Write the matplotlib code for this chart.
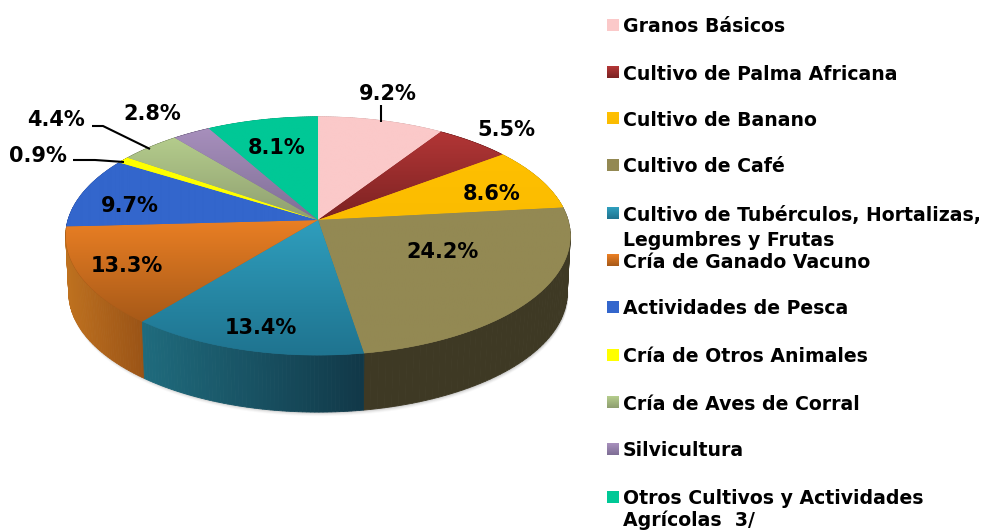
import matplotlib
matplotlib.use('Agg')
import matplotlib.pyplot as plt
import numpy as np
from matplotlib.colors import to_rgb

# datos
categories = ['Granos Básicos', 'Cultivo de Palma Africana', 'Cultivo de Banano', 'Cultivo de Café',
              'Cultivo de Tubérculos, Hortalizas,\nLegumbres y Frutas', 'Cría de Ganado Vacuno',
              'Actividades de Pesca', 'Cría de Otros Animales', 'Cría de Aves de Corral',
              'Silvicultura', 'Otros Cultivos y Actividades\nAgrícolas  3/']
values = [9.2, 5.5, 8.6, 24.2, 13.4, 13.3, 9.7, 0.9, 4.4, 2.8, 8.1]
pct_labels = ['9.2%', '5.5%', '8.6%', '24.2%', '13.4%', '13.3%', '9.7%', '0.9%', '4.4%', '2.8%', '8.1%']

# colores: arriba / abajo de la cara superior, izquierda / derecha del lateral
top_light = ['#FBC9C9', '#B23636', '#FFC000', '#938953', '#2F9EBD', '#EA7F24', '#3366CC', '#FFFF00', '#B4CC8C', '#A78FBC', '#00C896']
top_dark = ['#FBC9C9', '#7C2222', '#FBBC00', '#938953', '#1F7490', '#A85A18', '#3366CC', '#FFFF00', '#8F9F70', '#7F6F96', '#00C896']
side_left = ['#C09090', '#702020', '#A08000', '#3E3924', '#1F6B7D', '#BE711F', '#223F88', '#999900', '#6A7A50', '#5F5070', '#008060']
side_right = ['#C09090', '#702020', '#A08000', '#3E3924', '#113848', '#9A5316', '#223F88', '#999900', '#6A7A50', '#5F5070', '#008060']

# posicion de textos y leyenda (pixeles)
label_xy = [(388, 93), (506, 128), (492, 193), (443, 250), (261, 326), (127, 264),
            (130, 204), (38, 154), (56, 118), (152, 112), (277, 146)]
legend_y = [25, 72, 118, 165, 213, 260, 307, 355, 402, 449, 497]
leaders = [([381, 381], [105, 122]), ([92, 103, 150], [126, 126, 149]), ([73, 95, 124], [160, 160, 162])]

# perspectiva del disco
cx, cy = 318, 220
rx, ry, k = 250, 117, 0.134
depth = 57


def project(theta, shrink=1.0, dy=0):
    u = np.sin(theta)
    v = np.cos(theta)
    w = 1 + k * v
    return cx + shrink * rx * u / w, cy - ry * v / w + dy


fig = plt.figure(figsize=(9.83, 5.31), dpi=100)
ax = fig.add_axes([0, 0, 1, 1])
ax.axis('off')

fractions = np.array(values) / sum(values)
edges = np.concatenate([[0], np.cumsum(fractions)]) * 2 * np.pi

# sombra bajo el lateral
t = np.linspace(0, 2 * np.pi, 400)
for off, alpha in [(4, 0.05), (3, 0.08), (2, 0.12), (1, 0.16)]:
    sx, sy = project(t, shrink=0.988, dy=depth + off)
    ax.fill(sx + 1, sy, color='#808080', alpha=alpha, lw=0, zorder=1)

# lateral por tiras, primero los del fondo
mid = (edges[:-1] + edges[1:]) / 2
for i in np.argsort(-np.cos(mid)):
    th = np.linspace(edges[i], edges[i + 1], 60)
    x1, y1 = project(th)
    x2, y2 = project(th, shrink=0.988, dy=depth)
    xmin, xmax = x1.min(), x1.max()
    c0, c1 = np.array(to_rgb(side_left[i])), np.array(to_rgb(side_right[i]))
    for j in range(len(th) - 1):
        f = ((x1[j] + x1[j + 1]) / 2 - xmin) / max(xmax - xmin, 1)
        col = c0 + (c1 - c0) * f
        ax.fill([x1[j], x1[j + 1], x2[j + 1], x2[j]], [y1[j], y1[j + 1], y2[j + 1], y2[j]],
                color=col, lw=0.6, zorder=2)

# cara superior con degradado vertical
for i in range(len(values)):
    th = np.linspace(edges[i], edges[i + 1], 80)
    x, y = project(th)
    x = np.concatenate([[cx], x])
    y = np.concatenate([[cy], y])
    poly = ax.fill(x, y, color=top_dark[i], lw=0.4, zorder=3)[0]
    c0, c1 = np.array(to_rgb(top_light[i])), np.array(to_rgb(top_dark[i]))
    grad = np.linspace(0, 1, 64)[:, None, None] * (c1 - c0) + c0
    im = ax.imshow(grad, extent=(x.min(), x.max(), y.max(), y.min()), aspect='auto',
                   interpolation='bilinear', zorder=3.1)
    im.set_clip_path(poly)

# lineas guia
for lx, ly in leaders:
    ax.plot(lx, ly, color='black', lw=1.5, zorder=4, solid_capstyle='butt')

# etiquetas de porcentaje
for (px, py), lab in zip(label_xy, pct_labels):
    ax.text(px, py + 7.5, lab, ha='center', va='baseline', fontsize=15, fontweight='bold', color='black', zorder=5)

# leyenda
for i, name in enumerate(categories):
    ly = legend_y[i]
    c0, c1 = np.array(to_rgb(top_light[i])), np.array(to_rgb(top_dark[i]))
    grad = np.linspace(0, 1, 12)[:, None, None] * (c1 - c0) + c0
    ax.imshow(grad, extent=(607, 619, ly + 6, ly - 6), aspect='auto', zorder=3)
    for n, line in enumerate(name.split('\n')):
        base = min(ly + 7.5 + n * 25, 526)
        ax.text(623, base, line, ha='left', va='baseline', fontsize=13.6,
                fontweight='bold', color='black', zorder=5)

ax.set_xlim(0, 983)
ax.set_ylim(531, 0)

fig.savefig('out.png', dpi=100, facecolor='white')
